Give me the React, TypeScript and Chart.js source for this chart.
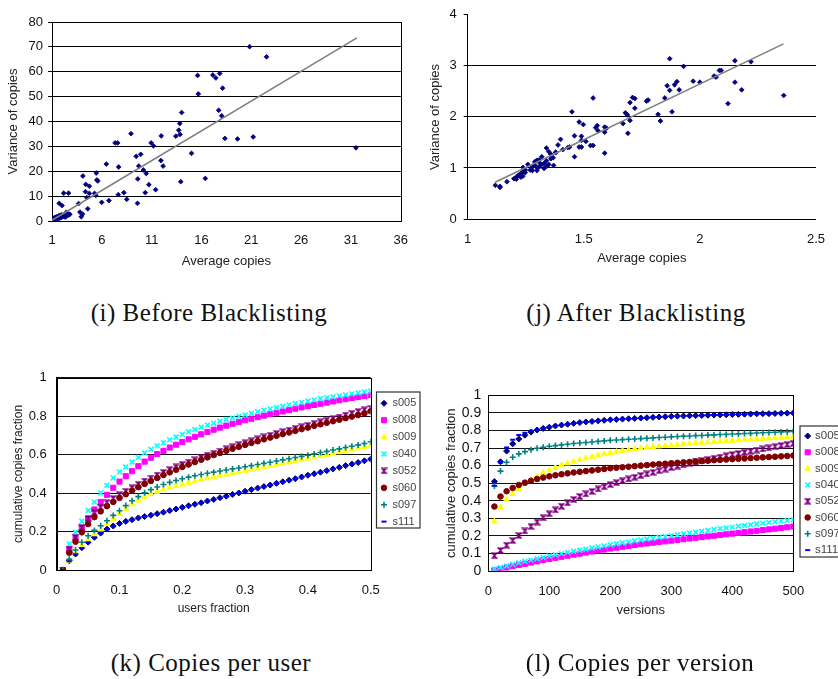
import React, { useEffect, useRef } from 'react';
import { Chart, registerables } from 'chart.js';
import { drawPoint } from 'chart.js/helpers';

Chart.register(...registerables);

const FONT = '"Liberation Sans", Arial, Helvetica, sans-serif';
const SERIF = '"Liberation Serif", "Times New Roman", serif';

// ---------- (i) Before Blacklisting ----------
const iXTicks = [1, 6, 11, 16, 21, 26, 31, 36];
const iAvg = [
  20.83, 22.53, 15.61, 17.14, 17.83, 17.44, 15.68, 18.12, 17.73, 18.03,
  14.01, 13.82, 13.72, 13.85, 13.43, 11.96, 8.93, 7.33, 7.59, 10.95,
  11.18, 18.35, 19.62, 21.19, 31.5, 15.0, 9.9, 9.45, 6.45, 7.69,
  9.71, 11.93, 12.15, 10.17, 10.46, 5.44, 4.1, 5.5, 5.6, 9.61,
  13.92, 16.39, 4.39, 4.75, 10.72, 11.4, 4.36, 4.75, 5.27, 5.4,
  4.49, 2.17, 2.66, 7.65, 8.21, 10.36, 8.5, 6.71, 5.99, 9.58,
  3.67, 4.59, 1.72, 2.01, 3.8, 4.07, 3.94, 2.73, 2.44,
  1.06, 1.16, 1.26, 1.32, 1.49, 1.59, 1.65, 1.81, 1.91, 1.98,
  2.14, 2.24, 2.3, 2.37, 2.47, 2.63, 2.79, 1.1, 1.4, 1.75, 2.05, 1.2,
];
const iVar = [
  70.1, 66.0, 58.5, 58.7, 59.3, 57.5, 51.1, 53.4, 44.5, 42.3,
  43.6, 39.2, 36.5, 34.8, 34.1, 34.2, 35.1, 31.4, 31.4, 31.4,
  30.2, 33.2, 33.0, 33.8, 29.4, 27.2, 26.8, 26.0, 22.9, 21.7,
  22.1, 24.3, 22.1, 20.5, 19.1, 19.3, 18.1, 16.5, 16.1, 16.9,
  15.8, 17.1, 14.7, 14.0, 14.6, 12.6, 11.8, 11.1, 11.1, 10.3,
  9.4, 11.2, 11.2, 10.6, 11.4, 11.4, 8.7, 8.2, 7.5, 7.1,
  7.0, 4.9, 7.1, 6.2, 3.6, 2.8, 1.7, 2.7, 3.5,
  0.5, 1.1, 0.7, 1.5, 1.7, 0.9, 2.0, 2.3, 1.3, 2.5,
  2.4, 1.7, 2.7, 1.6, 3.1, 2.4, 2.7, 0.2, 0.9, 1.2, 1.9, 0.4,
];
const iTrendX = [1, 31.6];
const iTrendY = [0.3, 73.6];

// ---------- (j) After Blacklisting ----------
const jXTicks = [1, 1.5, 2, 2.5];
const jAvg = [
  1.870, 1.930, 2.151, 2.220, 2.151, 2.180, 2.121, 2.361, 2.084, 2.092,
  2.061, 2.070, 2.000, 1.971, 1.901, 1.891, 1.911, 1.859, 1.870, 1.849,
  1.880, 1.830, 1.820, 1.777, 1.770, 1.710, 1.720, 1.720, 1.699, 1.679,
  1.688, 1.699, 1.669, 1.690, 1.540, 1.449, 1.480, 1.498, 1.551, 1.558,
  1.561, 1.590, 1.590, 1.598, 1.590, 1.460, 1.490, 1.490, 1.509, 1.529,
  1.540, 1.480, 1.490, 1.460, 1.439, 1.431, 1.400, 1.389, 1.410, 1.379,
  1.339, 1.349, 1.358, 1.368, 1.339, 1.358, 1.370, 1.319, 1.298, 1.289,
  1.308, 1.319, 1.329, 1.339, 1.308, 1.298, 1.279, 1.269, 1.259, 1.289,
  1.238, 1.248, 1.238, 1.229, 1.238, 1.219, 1.209, 1.199, 1.209, 1.169,
  1.119, 1.139, 1.139, 1.229, 1.248, 1.279, 1.298, 1.329, 1.349, 1.308, 1.379,
];
const jVar = [
  3.14, 2.99, 3.10, 3.08, 2.68, 2.53, 2.26, 2.42, 2.91, 2.91,
  2.80, 2.78, 2.68, 2.70, 2.69, 2.63, 2.53, 2.61, 2.52, 2.37,
  2.10, 1.92, 2.05, 2.33, 2.31, 2.38, 2.36, 2.17, 2.28, 2.08,
  2.04, 1.93, 1.87, 1.68, 2.37, 2.10, 1.90, 1.85, 1.79, 1.83,
  1.73, 1.80, 1.70, 1.78, 1.29, 1.63, 1.62, 1.54, 1.52, 1.44,
  1.44, 1.41, 1.41, 1.22, 1.41, 1.40, 1.56, 1.45, 1.36, 1.31,
  1.39, 1.32, 1.27, 1.20, 1.14, 1.18, 1.05, 1.22, 1.15, 1.12,
  1.11, 1.07, 0.99, 1.03, 1.02, 1.01, 1.02, 0.96, 1.07, 1.06,
  1.01, 0.96, 0.93, 0.89, 0.84, 0.86, 0.82, 0.79, 0.78, 0.73,
  0.66, 0.64, 0.62, 0.82, 0.91, 0.95, 0.95, 1.09, 1.07, 1.16, 1.30,
];
const jTrendX = [1.118, 2.36];
const jTrendY = [0.72, 3.43];

// ---------- series names ----------
const seriesNames = ['s005', 's008', 's009', 's040', 's052', 's060', 's097', 's111'];

// ---------- (k) Copies per user ----------
const kUsers = [
  0.01, 0.02, 0.03, 0.04, 0.05, 0.06, 0.07, 0.08, 0.09, 0.1,
  0.11, 0.12, 0.13, 0.14, 0.15, 0.16, 0.17, 0.18, 0.19, 0.2,
  0.21, 0.22, 0.23, 0.24, 0.25, 0.26, 0.27, 0.28, 0.29, 0.3,
  0.31, 0.32, 0.33, 0.34, 0.35, 0.36, 0.37, 0.38, 0.39, 0.4,
  0.41, 0.42, 0.43, 0.44, 0.45, 0.46, 0.47, 0.48, 0.49, 0.5,
];
const k005 = [0, 0.048, 0.083, 0.116, 0.145, 0.170, 0.192, 0.213, 0.229, 0.242, 0.253, 0.262, 0.271, 0.278, 0.285, 0.293, 0.301, 0.309, 0.317, 0.326, 0.334, 0.342, 0.350, 0.359, 0.367, 0.376, 0.384, 0.393, 0.401, 0.410, 0.418, 0.426, 0.434, 0.442, 0.451, 0.459, 0.467, 0.475, 0.484, 0.493, 0.501, 0.509, 0.517, 0.526, 0.534, 0.543, 0.551, 0.559, 0.568, 0.577];
const k008 = [0, 0.109, 0.168, 0.220, 0.268, 0.315, 0.354, 0.391, 0.428, 0.460, 0.488, 0.514, 0.540, 0.564, 0.584, 0.603, 0.620, 0.637, 0.652, 0.666, 0.680, 0.693, 0.706, 0.718, 0.730, 0.741, 0.751, 0.761, 0.770, 0.779, 0.787, 0.795, 0.803, 0.811, 0.818, 0.825, 0.832, 0.839, 0.846, 0.853, 0.859, 0.865, 0.871, 0.877, 0.883, 0.889, 0.895, 0.900, 0.905, 0.910];
const k009 = [0, 0.048, 0.090, 0.126, 0.156, 0.185, 0.211, 0.239, 0.265, 0.292, 0.318, 0.342, 0.362, 0.380, 0.395, 0.407, 0.418, 0.428, 0.437, 0.446, 0.454, 0.462, 0.470, 0.477, 0.484, 0.491, 0.497, 0.504, 0.510, 0.516, 0.523, 0.529, 0.536, 0.542, 0.549, 0.555, 0.561, 0.568, 0.574, 0.580, 0.587, 0.594, 0.600, 0.606, 0.613, 0.620, 0.627, 0.634, 0.641, 0.649];
const k040 = [0, 0.135, 0.196, 0.254, 0.310, 0.354, 0.401, 0.441, 0.479, 0.510, 0.536, 0.562, 0.586, 0.609, 0.628, 0.646, 0.662, 0.677, 0.692, 0.706, 0.719, 0.731, 0.743, 0.754, 0.764, 0.774, 0.783, 0.791, 0.799, 0.807, 0.815, 0.823, 0.831, 0.838, 0.845, 0.852, 0.859, 0.866, 0.872, 0.879, 0.885, 0.891, 0.896, 0.901, 0.906, 0.911, 0.916, 0.921, 0.926, 0.931];
const k052 = [0, 0.108, 0.170, 0.220, 0.268, 0.300, 0.326, 0.350, 0.372, 0.392, 0.410, 0.428, 0.446, 0.463, 0.478, 0.494, 0.508, 0.522, 0.536, 0.549, 0.561, 0.573, 0.585, 0.597, 0.608, 0.619, 0.630, 0.641, 0.652, 0.662, 0.672, 0.682, 0.692, 0.701, 0.710, 0.719, 0.728, 0.737, 0.745, 0.753, 0.762, 0.771, 0.779, 0.788, 0.796, 0.806, 0.815, 0.824, 0.833, 0.842];
const k060 = [0, 0.090, 0.147, 0.196, 0.239, 0.275, 0.305, 0.332, 0.354, 0.375, 0.394, 0.413, 0.431, 0.448, 0.463, 0.479, 0.494, 0.508, 0.522, 0.536, 0.549, 0.562, 0.574, 0.586, 0.598, 0.609, 0.620, 0.631, 0.641, 0.651, 0.661, 0.670, 0.680, 0.689, 0.698, 0.707, 0.716, 0.724, 0.733, 0.741, 0.750, 0.758, 0.766, 0.774, 0.782, 0.790, 0.798, 0.806, 0.815, 0.826];
const k097 = [0, 0.056, 0.104, 0.144, 0.178, 0.206, 0.230, 0.256, 0.284, 0.308, 0.335, 0.360, 0.382, 0.402, 0.418, 0.432, 0.445, 0.456, 0.466, 0.475, 0.483, 0.490, 0.497, 0.503, 0.509, 0.515, 0.520, 0.526, 0.531, 0.537, 0.543, 0.549, 0.555, 0.561, 0.567, 0.573, 0.579, 0.585, 0.591, 0.597, 0.604, 0.611, 0.617, 0.624, 0.630, 0.637, 0.644, 0.651, 0.658, 0.667];
const k111 = [0, 0.046, 0.082, 0.115, 0.144, 0.169, 0.191, 0.212, 0.228, 0.241, 0.252, 0.262, 0.270, 0.278, 0.285, 0.292, 0.300, 0.308, 0.317, 0.325, 0.333, 0.341, 0.350, 0.358, 0.367, 0.375, 0.384, 0.392, 0.401, 0.409, 0.417, 0.425, 0.434, 0.442, 0.450, 0.458, 0.466, 0.475, 0.483, 0.492, 0.500, 0.508, 0.517, 0.525, 0.534, 0.542, 0.550, 0.559, 0.567, 0.576];

// ---------- (l) Copies per version ----------
const lVersions = [
  10, 20, 30, 40, 50, 60, 70, 80, 90, 100,
  110, 120, 130, 140, 150, 160, 170, 180, 190, 200,
  210, 220, 230, 240, 250, 260, 270, 280, 290, 300,
  310, 320, 330, 340, 350, 360, 370, 380, 390, 400,
  410, 420, 430, 440, 450, 460, 470, 480, 490, 500,
];
const l005 = [0.510, 0.622, 0.683, 0.724, 0.752, 0.773, 0.791, 0.803, 0.812, 0.819, 0.826, 0.831, 0.836, 0.841, 0.845, 0.849, 0.852, 0.855, 0.858, 0.861, 0.863, 0.865, 0.867, 0.869, 0.871, 0.873, 0.875, 0.877, 0.879, 0.881, 0.882, 0.883, 0.884, 0.885, 0.886, 0.887, 0.888, 0.889, 0.890, 0.891, 0.892, 0.893, 0.894, 0.895, 0.896, 0.896, 0.897, 0.898, 0.899, 0.900];
const l008 = [0.004, 0.012, 0.020, 0.027, 0.034, 0.041, 0.048, 0.055, 0.062, 0.069, 0.075, 0.081, 0.087, 0.093, 0.099, 0.105, 0.111, 0.117, 0.122, 0.128, 0.133, 0.138, 0.143, 0.148, 0.153, 0.157, 0.161, 0.165, 0.169, 0.173, 0.177, 0.181, 0.185, 0.189, 0.193, 0.197, 0.201, 0.205, 0.209, 0.213, 0.217, 0.221, 0.225, 0.229, 0.233, 0.237, 0.241, 0.245, 0.249, 0.253];
const l009 = [0.283, 0.362, 0.407, 0.439, 0.467, 0.495, 0.518, 0.540, 0.559, 0.574, 0.589, 0.602, 0.613, 0.623, 0.633, 0.642, 0.650, 0.658, 0.666, 0.673, 0.679, 0.685, 0.690, 0.695, 0.699, 0.703, 0.707, 0.710, 0.713, 0.716, 0.719, 0.722, 0.725, 0.728, 0.731, 0.733, 0.736, 0.738, 0.741, 0.743, 0.745, 0.747, 0.749, 0.751, 0.753, 0.755, 0.757, 0.759, 0.761, 0.763];
const l040 = [0.011, 0.020, 0.029, 0.038, 0.047, 0.055, 0.062, 0.070, 0.077, 0.085, 0.092, 0.099, 0.106, 0.112, 0.118, 0.124, 0.131, 0.137, 0.143, 0.149, 0.155, 0.161, 0.166, 0.172, 0.177, 0.182, 0.187, 0.192, 0.196, 0.201, 0.206, 0.211, 0.216, 0.221, 0.226, 0.231, 0.236, 0.241, 0.245, 0.250, 0.255, 0.259, 0.263, 0.268, 0.272, 0.276, 0.280, 0.284, 0.288, 0.292];
const l052 = [0.087, 0.117, 0.147, 0.173, 0.202, 0.228, 0.254, 0.279, 0.303, 0.326, 0.348, 0.369, 0.388, 0.407, 0.424, 0.439, 0.453, 0.467, 0.480, 0.492, 0.503, 0.514, 0.524, 0.534, 0.544, 0.553, 0.562, 0.571, 0.580, 0.589, 0.597, 0.605, 0.613, 0.621, 0.628, 0.635, 0.642, 0.649, 0.656, 0.663, 0.669, 0.676, 0.682, 0.689, 0.695, 0.701, 0.708, 0.714, 0.720, 0.727];
const l060 = [0.367, 0.424, 0.454, 0.473, 0.490, 0.503, 0.514, 0.524, 0.532, 0.539, 0.545, 0.551, 0.556, 0.561, 0.565, 0.569, 0.573, 0.577, 0.581, 0.585, 0.588, 0.591, 0.594, 0.597, 0.600, 0.603, 0.606, 0.609, 0.611, 0.614, 0.616, 0.619, 0.621, 0.624, 0.626, 0.628, 0.631, 0.633, 0.635, 0.637, 0.639, 0.641, 0.643, 0.645, 0.647, 0.649, 0.651, 0.653, 0.655, 0.658];
const l097 = [0.484, 0.569, 0.619, 0.648, 0.667, 0.680, 0.691, 0.699, 0.705, 0.710, 0.714, 0.718, 0.722, 0.726, 0.729, 0.732, 0.735, 0.738, 0.741, 0.744, 0.746, 0.748, 0.750, 0.752, 0.754, 0.756, 0.758, 0.760, 0.762, 0.764, 0.766, 0.768, 0.769, 0.771, 0.772, 0.774, 0.775, 0.777, 0.778, 0.780, 0.781, 0.783, 0.784, 0.786, 0.787, 0.789, 0.790, 0.792, 0.793, 0.795];
const l111 = [0.485, 0.618, 0.703, 0.747, 0.775, 0.787, 0.798, 0.805, 0.813, 0.820, 0.826, 0.831, 0.836, 0.841, 0.845, 0.849, 0.852, 0.855, 0.858, 0.861, 0.863, 0.865, 0.867, 0.869, 0.871, 0.873, 0.875, 0.877, 0.879, 0.881, 0.882, 0.883, 0.884, 0.885, 0.886, 0.887, 0.888, 0.889, 0.890, 0.891, 0.892, 0.893, 0.894, 0.895, 0.896, 0.896, 0.897, 0.898, 0.899, 0.900];

// ---------- plugins ----------
const frameBox = {
  id: 'frameBox',
  beforeDatasetsDraw(chart: any, _a: any, o: any) {
    if (!o || !o.show) return;
    const { ctx, chartArea: a } = chart;
    ctx.save();
    ctx.strokeStyle = '#000';
    ctx.lineWidth = 1;
    ctx.strokeRect(Math.round(a.left) + 0.5, Math.round(a.top) + 0.5, Math.round(a.right - a.left), Math.round(a.bottom - a.top));
    ctx.restore();
  },
};

const boxLegend = {
  id: 'boxLegend',
  afterDraw(chart: any, _a: any, o: any) {
    if (!o || !o.show) return;
    const ctx = chart.ctx;
    ctx.save();
    ctx.strokeStyle = '#333';
    ctx.lineWidth = 1.2;
    ctx.strokeRect(o.left, o.top, o.width, o.height);
    ctx.font = `${o.fontSize}px ${FONT}`;
    ctx.textBaseline = 'middle';
    ctx.textAlign = 'left';
    chart.data.datasets.forEach((ds: any, i: number) => {
      const y = o.top + o.firstY + i * o.step;
      ctx.fillStyle = ds.backgroundColor;
      ctx.strokeStyle = ds.borderColor;
      ctx.lineWidth = ds.borderWidth;
      drawPoint(ctx, { pointStyle: ds.pointStyle, radius: ds.pointRadius, rotation: 0, borderWidth: ds.borderWidth } as any, o.left + o.markerX, y);
      ctx.fillStyle = '#444';
      ctx.fillText(ds.label, o.left + o.textX, y);
    });
    ctx.restore();
  },
};

function makeStyles() {
  const hg = document.createElement('canvas');
  hg.width = 7;
  hg.height = 7;
  const g = hg.getContext('2d')!;
  g.fillStyle = '#800080';
  g.strokeStyle = '#800080';
  g.lineWidth = 1.1;
  g.beginPath();
  g.moveTo(0.5, 0.5); g.lineTo(6.5, 0.5); g.lineTo(3.5, 3.5); g.closePath();
  g.moveTo(0.5, 6.5); g.lineTo(6.5, 6.5); g.lineTo(3.5, 3.5); g.closePath();
  g.fill();
  g.beginPath();
  g.moveTo(0.5, 0.5); g.lineTo(6.5, 6.5); g.moveTo(6.5, 0.5); g.lineTo(0.5, 6.5);
  g.stroke();
  return [
    { color: '#000080', style: 'rectRot', radius: 3, bw: 1 },
    { color: '#FF00FF', style: 'rect', radius: 3.6, bw: 1 },
    { color: '#FFFF00', style: 'triangle', radius: 3.2, bw: 1 },
    { color: '#00FFFF', style: 'crossRot', radius: 3.4, bw: 1.6 },
    { color: '#800080', style: hg, radius: 3, bw: 1 },
    { color: '#800000', style: 'circle', radius: 2.8, bw: 1 },
    { color: '#008080', style: 'cross', radius: 3, bw: 1.6 },
    { color: '#0000FF', style: 'line', radius: 2.5, bw: 2 },
  ];
}

function curveSets(xs: number[], series: number[][]) {
  const st = makeStyles();
  return series.map((arr, i) => ({
    label: seriesNames[i],
    data: arr.map((v, j) => ({ x: xs[j], y: v })),
    showLine: false,
    pointStyle: st[i].style,
    pointRadius: st[i].radius,
    pointHoverRadius: st[i].radius,
    backgroundColor: st[i].color,
    borderColor: st[i].color,
    borderWidth: st[i].bw,
    order: 10 - i,
  }));
}

const f = (size: number) => ({ family: FONT, size });
const plainNum = (v: any) => String(Math.round(Number(v) * 1000) / 1000);

function scatterConfig(opts: any) {
  return {
    type: 'scatter',
    data: {
      datasets: [
        {
          label: 'trend',
          data: opts.tx.map((x: number, k: number) => ({ x, y: opts.ty[k] })),
          showLine: true,
          borderColor: '#808080',
          backgroundColor: '#808080',
          borderWidth: 1.6,
          pointRadius: 0,
          order: 0,
        },
        {
          label: 'pts',
          data: opts.xs.map((x: number, k: number) => ({ x, y: opts.ys[k] })),
          pointStyle: 'rectRot',
          pointRadius: 2.4,
          backgroundColor: '#000080',
          borderColor: '#000080',
          borderWidth: 0.8,
          order: 1,
        },
      ],
    },
    options: {
      responsive: false,
      animation: false,
      devicePixelRatio: 1,
      layout: { padding: opts.padding },
      plugins: { legend: { display: false }, tooltip: { enabled: false }, frameBox: { show: opts.frame } },
      scales: {
        x: {
          type: 'linear',
          min: opts.xmin,
          max: opts.xmax,
          afterBuildTicks: (s: any) => { s.ticks = opts.xticks.map((v: number) => ({ value: v })); },
          afterFit: (s: any) => { s.height = opts.xh; },
          grid: { display: false, drawTicks: false },
          border: { display: true, color: '#000', width: 1 },
          ticks: { font: f(13), color: '#111', padding: opts.xpad, maxRotation: 0, autoSkip: false, callback: plainNum },
          title: { display: true, text: 'Average copies', font: f(13), color: '#222', padding: { top: 0, bottom: opts.xtpad } },
        },
        y: {
          type: 'linear',
          min: 0,
          max: opts.ymax,
          afterFit: (s: any) => { s.width = opts.yw; },
          ticks: { stepSize: opts.ystep, font: f(13), color: '#111', padding: opts.ypad, callback: plainNum },
          grid: { color: opts.gridColor, tickColor: '#000', tickLength: 4, drawTicks: true, lineWidth: 1 },
          border: { display: true, color: '#000', width: 1 },
          title: { display: true, text: 'Variance of copies', font: f(13), color: '#222', padding: { top: opts.ytpad, bottom: 0 } },
        },
      },
    },
    plugins: [frameBox],
  };
}

function curveConfig(opts: any) {
  return {
    type: 'scatter',
    data: { datasets: curveSets(opts.xs, opts.series) },
    options: {
      responsive: false,
      animation: false,
      devicePixelRatio: 1,
      layout: { padding: opts.padding },
      plugins: {
        legend: { display: false },
        tooltip: { enabled: false },
        frameBox: { show: true },
        boxLegend: { show: true, ...opts.legend },
      },
      scales: {
        x: {
          type: 'linear',
          min: opts.xmin,
          max: opts.xmax,
          afterFit: (s: any) => { s.height = opts.xh; },
          grid: { display: false, drawTicks: false },
          border: { display: true, color: '#000', width: 1 },
          ticks: { stepSize: opts.xstep, font: f(13), color: '#111', padding: opts.xpad, maxRotation: 0, autoSkip: false, callback: plainNum },
          title: { display: true, text: opts.xtitle, font: f(opts.tsize), color: '#222', padding: { top: 0, bottom: opts.xtpad } },
        },
        y: {
          type: 'linear',
          min: 0,
          max: 1,
          afterFit: (s: any) => { s.width = opts.yw; },
          ticks: { stepSize: opts.ystep, font: f(opts.ysize), color: '#111', padding: opts.ypad, autoSkip: false, callback: plainNum },
          grid: { color: '#111', drawTicks: false, lineWidth: 1 },
          border: { display: true, color: '#000', width: 1 },
          title: { display: true, text: 'cumulative copies fraction', font: f(opts.tsize), color: '#222', padding: { top: opts.ytpad, bottom: 0 } },
        },
      },
    },
    plugins: [frameBox, boxLegend],
  };
}

function ChartCanvas(props: { left: number; top: number; width: number; height: number; build: () => any }) {
  const ref = useRef<HTMLCanvasElement>(null);
  useEffect(() => {
    const chart = new Chart(ref.current as HTMLCanvasElement, props.build());
    return () => chart.destroy();
  }, []);
  return (
    <canvas
      ref={ref}
      width={props.width}
      height={props.height}
      style={{ position: 'absolute', left: props.left, top: props.top, width: props.width, height: props.height }}
    />
  );
}

function Caption(props: { cx: number; cy: number; text: string }) {
  return (
    <div
      style={{
        position: 'absolute',
        left: props.cx - 200,
        top: props.cy - 16,
        width: 400,
        height: 32,
        lineHeight: '32px',
        textAlign: 'center',
        fontFamily: SERIF,
        fontSize: 25,
        letterSpacing: '0.5px',
        color: '#111',
        whiteSpace: 'nowrap',
      }}
    >
      {props.text}
    </div>
  );
}

export default function App() {
  return (
    <div style={{ position: 'fixed', left: 0, top: 0, width: 838, height: 679, overflow: 'hidden', background: '#fff' }}>
      <ChartCanvas
        left={0}
        top={0}
        width={420}
        height={280}
        build={() =>
          scatterConfig({
            xs: iAvg, ys: iVar, tx: iTrendX, ty: iTrendY,
            xmin: 1, xmax: 36, xticks: iXTicks, ymax: 80, ystep: 10,
            padding: { left: 0, top: 22, right: 11, bottom: 0 },
            xh: 59, yw: 52, xpad: 12, ypad: 5, xtpad: 10.5, ytpad: 6,
            frame: true, gridColor: '#000',
          })
        }
      />
      <ChartCanvas
        left={420}
        top={0}
        width={418}
        height={275}
        build={() =>
          scatterConfig({
            xs: jAvg, ys: jVar, tx: jTrendX, ty: jTrendY,
            xmin: 1, xmax: 2.5, xticks: jXTicks, ymax: 4, ystep: 1,
            padding: { left: 0, top: 11.7, right: 11.3, bottom: 0 },
            xh: 56, yw: 47.7, xpad: 13, ypad: 7, xtpad: 8.9, ytpad: 7.2,
            frame: false,
            gridColor: (c: any) => (c.tick && c.tick.value === 4 ? 'rgba(0,0,0,0)' : '#000'),
          })
        }
      />
      <ChartCanvas
        left={0}
        top={360}
        width={430}
        height={265}
        build={() =>
          curveConfig({
            xs: kUsers,
            series: [k005, k008, k009, k040, k052, k060, k097, k111],
            xmin: 0, xmax: 0.5, xstep: 0.1, ystep: 0.2,
            padding: { left: 0, top: 17.3, right: 59.3, bottom: 0 },
            xh: 55, yw: 56.7, xpad: 13, ypad: 10, xtpad: 9.5, ytpad: 11.1, tsize: 12, ysize: 13,
            xtitle: 'users fraction',
            legend: { left: 376.5, top: 32, width: 43.5, height: 136, markerX: 7.5, textX: 16, firstY: 11.3, step: 16.9, fontSize: 11 },
          })
        }
      />
      <ChartCanvas
        left={420}
        top={380}
        width={440}
        height={245}
        build={() =>
          curveConfig({
            xs: lVersions,
            series: [l005, l008, l009, l040, l052, l060, l097, l111],
            xmin: 0, xmax: 500, xstep: 100, ystep: 0.1,
            padding: { left: 0, top: 14, right: 66.7, bottom: 0 },
            xh: 54, yw: 68.3, xpad: 12.7, ypad: 7, xtpad: 6.5, ytpad: 24, tsize: 13, ysize: 14,
            xtitle: 'versions',
            legend: { left: 380, top: 46, width: 70, height: 131, markerX: 7.7, textX: 15, firstY: 10, step: 16.3, fontSize: 11.5 },
          })
        }
      />
      <Caption cx={209} cy={313} text="(i) Before Blacklisting" />
      <Caption cx={636} cy={313} text="(j) After Blacklisting" />
      <Caption cx={211} cy={663} text="(k) Copies per user" />
      <Caption cx={640} cy={663} text="(l) Copies per version" />
    </div>
  );
}
